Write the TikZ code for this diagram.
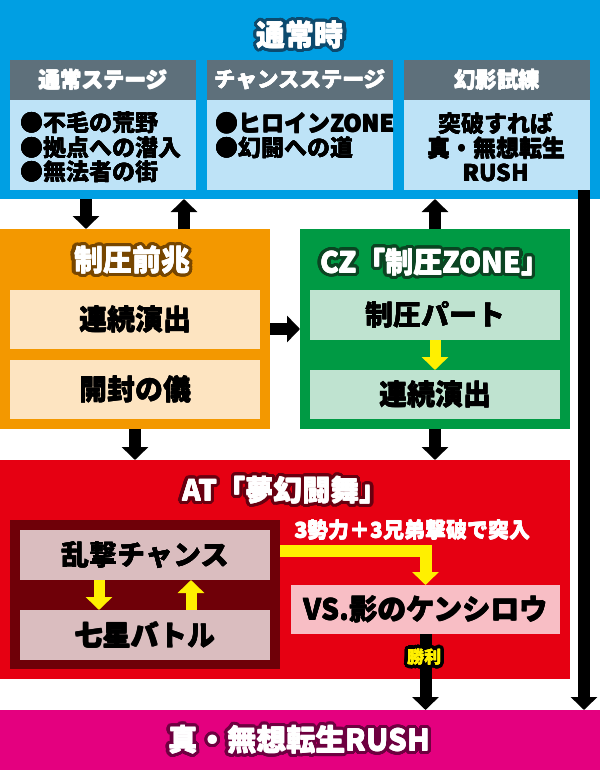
\documentclass[tikz,border=0pt]{standalone}
\usepackage{fontspec}
\setmainfont{Noto Sans CJK JP}
\usetikzlibrary{arrows.meta,calc}
\definecolor{cblue}{HTML}{009FE3}
\definecolor{cgray}{HTML}{5E707B}
\definecolor{clblue}{HTML}{BEE3F7}
\definecolor{corange}{HTML}{F39800}
\definecolor{cpeach}{HTML}{FDE4C1}
\definecolor{cgreen}{HTML}{009A44}
\definecolor{clgreen}{HTML}{BFE3D0}
\definecolor{cred}{HTML}{E60012}
\definecolor{cdred}{HTML}{6F0008}
\definecolor{cpgray}{HTML}{DABDBF}
\definecolor{cvs}{HTML}{F8BEC5}
\definecolor{cmag}{HTML}{E4007F}
\definecolor{cyel}{HTML}{FFF000}
\definecolor{onavy}{HTML}{0D4A6E}
\definecolor{obrown}{HTML}{774600}
\definecolor{odgreen}{HTML}{0B4422}
\definecolor{odred}{HTML}{680010}
\definecolor{odmag}{HTML}{6E0040}
% one shifted copy of a text
\newcommand\hc[3]{\rlap{\kern#1pt\raise#2pt\hbox{#3}}}
% text with a halo: outline colour, fill colour, text
\newcommand\halo[3]{{\color{#1}%
 \hc{3.3}{0}{#3}\hc{3.05}{1.26}{#3}\hc{2.33}{2.33}{#3}\hc{1.26}{3.05}{#3}%
 \hc{0}{3.3}{#3}\hc{-1.26}{3.05}{#3}\hc{-2.33}{2.33}{#3}\hc{-3.05}{1.26}{#3}%
 \hc{-3.3}{0}{#3}\hc{-3.05}{-1.26}{#3}\hc{-2.33}{-2.33}{#3}\hc{-1.26}{-3.05}{#3}%
 \hc{0}{-3.3}{#3}\hc{1.26}{-3.05}{#3}\hc{2.33}{-2.33}{#3}\hc{3.05}{-1.26}{#3}%
 \hc{1.7}{0}{#3}\hc{0}{1.7}{#3}\hc{-1.7}{0}{#3}\hc{0}{-1.7}{#3}%
 \hc{1.2}{1.2}{#3}\hc{-1.2}{1.2}{#3}\hc{-1.2}{-1.2}{#3}\hc{1.2}{-1.2}{#3}}%
 {\color{#2}#3}}
% heavier text: a few tiny offset copies in the same colour
\newcommand\heavy[1]{\hc{0.45}{0}{#1}\hc{0}{0.45}{#1}\hc{0.45}{0.45}{#1}#1}
\begin{document}
\begin{tikzpicture}[x=1pt,y=-1pt,
  area/.style={fill=#1, inner sep=0pt, outer sep=0pt, anchor=center},
  hdtext/.style={text=white, font=\fontsize{21.5}{23}\selectfont\bfseries},
  bodytext/.style={text=black, font=\fontsize{23}{24.5}\selectfont\bfseries, inner sep=0pt},
  boxtext/.style={text=black, font=\fontsize{28}{30}\selectfont\bfseries},
  ttl/.style={font=\fontsize{#1}{#1}\selectfont\bfseries, inner sep=0pt},
  blk/.style={draw=black, line width=12pt, -{Triangle[width=26pt,length=13pt]}},
  yel/.style={draw=cyel, line width=11pt, line join=miter, -{Triangle[width=26pt,length=13pt]}}]
\useasboundingbox (0,0) rectangle (600,770);

% ---- normal state (blue)
\node[area=cblue, minimum width=600, minimum height=199] (normal) at (300,99.5) {};
\node[area=cgray, minimum width=186, minimum height=40, hdtext] (h1) at (103,80) {\heavy{通常ステージ}};
\node[area=cgray, minimum width=186, minimum height=40, hdtext] (h2) at (300,80) {\heavy{チャンスステージ}};
\node[area=cgray, minimum width=186, minimum height=40, hdtext] (h3) at (497,80) {\heavy{幻影試練}};
\node[area=clblue, minimum width=186, minimum height=90] (b1) at (103,145) {};
\node[area=clblue, minimum width=186, minimum height=90] (b2) at (300,145) {};
\node[area=clblue, minimum width=186, minimum height=90] (b3) at (497,145) {};
\node[bodytext, anchor=west, align=left] (b1t) at (20,147.5) {\heavy{●不毛の荒野}\\\heavy{●拠点への潜入}\\\heavy{●無法者の街}};
\node[bodytext, anchor=west, align=left] (b2t) at (215,136) {\heavy{●ヒロインZONE}\\\heavy{●幻闘への道}};
\node[bodytext, align=center] (b3t) at (496,147.5) {\heavy{突破すれば}\\\heavy{真・無想転生}\\\heavy{RUSH}};

% ---- 制圧前兆 (orange)
\node[area=corange, minimum width=270, minimum height=200] (orange) at (135,329) {};
\node[area=cpeach, minimum width=250, minimum height=59, boxtext] (o1) at (135,319.5) {\heavy{連続演出}};
\node[area=cpeach, minimum width=250, minimum height=59, boxtext] (o2) at (135,389.5) {\heavy{開封の儀}};

% ---- CZ (green)
\node[area=cgreen, minimum width=270, minimum height=200] (green) at (435,329) {};
\node[area=clgreen, minimum width=250, minimum height=50, boxtext] (g1) at (435,315) {\heavy{制圧パート}};
\node[area=clgreen, minimum width=250, minimum height=49, boxtext] (g2) at (435,394.5) {\heavy{連続演出}};

% ---- AT (red)
\node[area=cred, minimum width=570, minimum height=219] (red) at (285,569.5) {};
\node[area=cdred, minimum width=270, minimum height=149] (dark) at (145,594.5) {};
\node[area=cpgray, minimum width=250, minimum height=50, boxtext] (r1) at (145,555) {\heavy{乱撃チャンス}};
\node[area=cpgray, minimum width=250, minimum height=50, boxtext] (r2) at (145,635) {\heavy{七星バトル}};
\node[area=cvs, minimum width=269, minimum height=49, text=black, font=\fontsize{28.5}{30}\selectfont\bfseries] (vs) at (425.5,609.5) {\heavy{VS.影のケンシロウ}};
\node[text=white, font=\fontsize{21}{23}\selectfont\bfseries, inner sep=0pt] (entry) at (412.5,530) {\heavy{3勢力＋3兄弟撃破で突入}};

% ---- RUSH (magenta)
\node[area=cmag, minimum width=600, minimum height=60] (rush) at (300,740) {};

% ---- connectors
\draw[blk] ([xshift=86]normal.south west) -- ([xshift=86]orange.north west);
\draw[blk] ([xshift=184]orange.north west) -- ([xshift=184]normal.south west);
\draw[blk] (green.north) -- (green.north |- normal.south);
\draw[blk] (orange.east) -- (green.west);
\draw[blk] (orange.south) -- (orange.south |- red.north);
\draw[blk] (green.south) -- (green.south |- red.north);
\draw[yel] (g1.south) -- (g2.north);
\draw[yel] ([xshift=-46]r1.south) -- ([xshift=-46]r2.north);
\draw[yel] ([xshift=46]r2.north) -- ([xshift=46]r1.south);
\draw[yel, line width=12pt] ($(dark.east |- r1.east)+(0,-4)$) -| (vs.north);
\draw[blk] (vs.south) -- (vs.south |- rush.north);
\coordinate (rl) at ($(b3.south east)+(-6,0)$);
\draw[blk] (rl) -- (rl |- rush.north);

% ---- outlined titles
\node[ttl=29] (tnormal) at (300,35) {\halo{onavy}{white}{\heavy{通常時}}};
\node[ttl=29] (tzen) at (132,260) {\halo{obrown}{white}{\heavy{制圧前兆}}};
\node[ttl=28.5] (tcz) at (435,262) {\halo{odgreen}{white}{\heavy{CZ「制圧ZONE」}}};
\node[ttl=28.5] (tat) at (285,490) {\halo{odred}{white}{\heavy{AT「夢幻闘舞」}}};
\node[ttl=29.5] (trush) at (299,740) {\halo{odmag}{white}{\heavy{真・無想転生RUSH}}};
\node[ttl=17] (win) at (424,657) {\halo{black}{cyel}{\heavy{勝利}}};
\end{tikzpicture}
\end{document}
